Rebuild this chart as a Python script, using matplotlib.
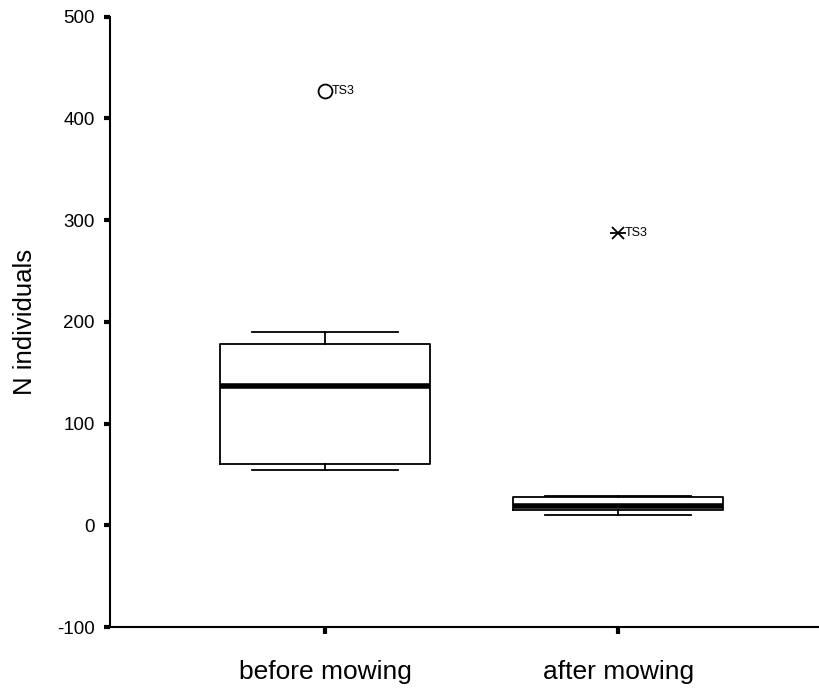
import matplotlib
matplotlib.use("Agg")
import matplotlib.pyplot as plt

plt.rcParams["font.family"] = ["Liberation Sans", "DejaVu Sans"]

# box statistics
groups = ["before mowing", "after mowing"]
whis_lo = [54, 10]
q1 = [60, 15.5]
median = [137, 19]
q3 = [178, 27.5]
whis_hi = [190, 29]
outliers = [427, 287]
outlier_marks = ["o", "x"]
outlier_labels = ["TS3", "TS3"]
y_ticks = [-100, 0, 100, 200, 300, 400, 500]

fig = plt.figure(figsize=(8.2, 6.93), dpi=100, facecolor="white")
ax = fig.add_axes([0.134, 0.095, 0.866, 0.881])

stats = []
for i, name in enumerate(groups):
    stats.append({"label": name, "whislo": whis_lo[i], "q1": q1[i], "med": median[i],
                  "q3": q3[i], "whishi": whis_hi[i], "fliers": []})

positions = [1, 2]
ax.bxp(stats, positions=positions, widths=0.717, showfliers=False,
       boxprops=dict(color="black", linewidth=1.3),
       medianprops=dict(color="black", linewidth=4),
       whiskerprops=dict(color="black", linewidth=1.3),
       capprops=dict(color="black", linewidth=1.3),
       capwidths=0.5)

# extreme values with case labels
for pos, val, mk, lab in zip(positions, outliers, outlier_marks, outlier_labels):
    if mk == "o":
        ax.plot(pos, val, marker="o", markersize=10, markerfacecolor="white",
                markeredgecolor="black", markeredgewidth=1.3, linestyle="none")
    else:
        ax.plot(pos, val, marker="x", markersize=9, color="black",
                markeredgewidth=1.3, linestyle="none")
        ax.plot(pos, val, marker="_", markersize=12, color="black",
                markeredgewidth=1.3, linestyle="none")
    ax.annotate(lab, (pos, val), xytext=(5, 0), textcoords="offset points",
                va="center", ha="left", fontsize=9)

ax.set_xlim(0.266, 2.689)
ax.set_ylim(-100, 500)
ax.set_yticks(y_ticks)
ax.set_yticklabels([str(t) for t in y_ticks])
ax.set_xticks(positions)
ax.set_xticklabels(groups, fontsize=19)
ax.tick_params(axis="x", length=5, width=3, pad=19)
ax.tick_params(axis="y", length=4, width=3, pad=7, labelsize=13.5)
ax.set_ylabel("N individuals", fontsize=18.5, labelpad=14)

ax.spines["top"].set_visible(False)
ax.spines["right"].set_visible(False)
ax.spines["left"].set_linewidth(1.5)
ax.spines["bottom"].set_linewidth(1.5)

fig.savefig("out.png", dpi=100, facecolor="white")
